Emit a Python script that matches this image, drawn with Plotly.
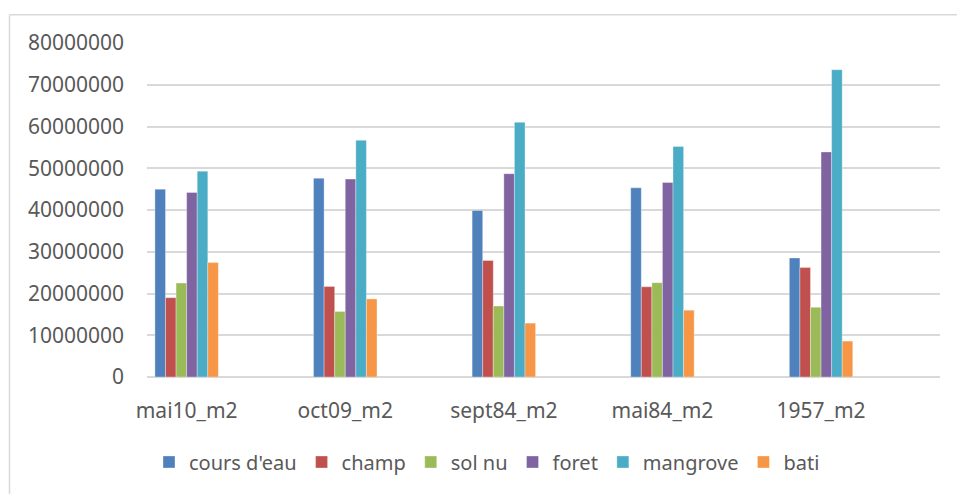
import plotly.graph_objects as go

categories = ["mai10_m2", "oct09_m2", "sept84_m2", "mai84_m2", "1957_m2"]

cours_deau = [45000000, 47600000, 39900000, 45300000, 28500000]
champ = [19000000, 21700000, 27900000, 21600000, 26200000]
sol_nu = [22500000, 15700000, 17000000, 22600000, 16700000]
foret = [44200000, 47400000, 48700000, 46600000, 53900000]
mangrove = [49300000, 56700000, 61000000, 55200000, 73600000]
bati = [27400000, 18700000, 12900000, 16000000, 8600000]

series_names = ["cours d'eau", "champ", "sol nu", "foret", "mangrove", "bati"]
series_values = [cours_deau, champ, sol_nu, foret, mangrove, bati]
series_colors = ["#4F81BD", "#C0504D", "#9BBB59", "#8064A2", "#4BACC6", "#F79646"]

y_ticks = [0, 10000000, 20000000, 30000000, 40000000, 50000000, 60000000, 70000000, 80000000]

FONT = "Noto Sans"
TEXT = "#595959"
GRID = "#D9D9D9"

fig = go.Figure()
for name, vals, col in zip(series_names, series_values, series_colors):
    fig.add_trace(go.Bar(
        name=name, x=categories, y=vals,
        marker=dict(color=col, line=dict(color="rgba(255,255,255,0.55)", width=0.6)),
    ))

W, H = 957, 494
L, R, T, B = 147, 17, 43, 115
pw, ph = W - L - R, H - T - B

def px_to_paper_x(page_x):
    return (page_x - L) / pw

def py_to_paper_y(page_y):
    return (H - B - page_y) / ph

fig.update_layout(
    width=W, height=H, autosize=False,
    margin=dict(l=L, r=R, t=T, b=B, pad=0),
    paper_bgcolor="white", plot_bgcolor="white",
    barmode="group", bargap=0.6, bargroupgap=0,
    font=dict(family=FONT, color=TEXT),
    showlegend=True,
    legend=dict(
        orientation="h", x=px_to_paper_x(149), xanchor="left",
        y=py_to_paper_y(464.5), yanchor="middle",
        font=dict(size=20, color=TEXT, family=FONT),
        itemwidth=30, tracegroupgap=0, bgcolor="rgba(0,0,0,0)",
    ),
    xaxis=dict(
        type="category", range=[-0.25, 4.75],
        showgrid=False, showline=False, zeroline=False,
        ticks="", tickfont=dict(size=21, color=TEXT, family=FONT),
        ticklabelstandoff=19,
    ),
    yaxis=dict(
        range=[0, 80000000], tickvals=y_ticks, tickformat="d",
        showgrid=True, gridcolor=GRID, gridwidth=1.5,
        zeroline=True, zerolinecolor=GRID, zerolinewidth=1.5,
        showline=False, ticks="",
        tickfont=dict(size=21, color=TEXT, family=FONT),
        ticklabelstandoff=22,
    ),
    shapes=[
        dict(type="line", xref="paper", yref="paper",
             x0=px_to_paper_x(9.5), x1=px_to_paper_x(970),
             y0=py_to_paper_y(14.5), y1=py_to_paper_y(14.5),
             line=dict(color=GRID, width=1.5)),
        dict(type="line", xref="paper", yref="paper",
             x0=px_to_paper_x(9.5), x1=px_to_paper_x(9.5),
             y0=py_to_paper_y(14.5), y1=py_to_paper_y(510),
             line=dict(color=GRID, width=1.5)),
    ],
)

fig.write_html(
    "out.html",
    config={"displayModeBar": False},
    post_script="document.body.style.margin='0';document.body.style.overflow='hidden';"
                "document.documentElement.style.overflow='hidden';",
)
